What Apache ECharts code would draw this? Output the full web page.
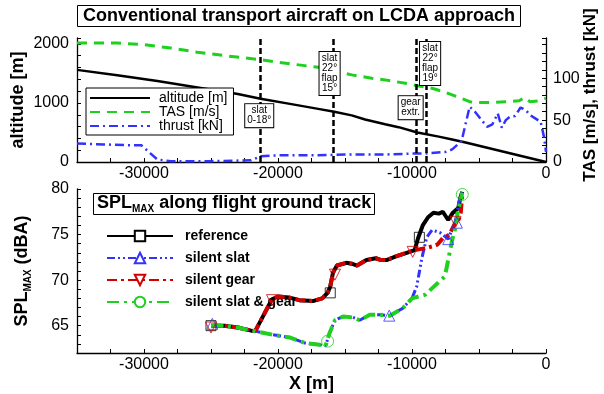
<!DOCTYPE html>
<html><head><meta charset="utf-8">
<script src="https://cdn.jsdelivr.net/npm/echarts@6/dist/echarts.min.js"></script>
<style>html,body{margin:0;padding:0;background:#fff}#c{width:604px;height:394px}</style>
</head><body><div id="c"></div>
<script>
const FONT = 'Liberation Sans, Arial, Helvetica, sans-serif';
const GREEN = '#1fd01f', BLUE = '#3232ff', RED = '#d40000';

// ---------- top panel data ----------
const altitudeData = [[-35000,1560],[-32000,1470],[-29000,1370],[-26000,1260],[-23000,1150],[-21300,1070],[-19000,980],[-17000,900],[-15800,850],[-14500,790],[-13500,720],[-12000,640],[-11000,590],[-9600,500],[-8000,430],[-7000,380],[-6000,330],[-4000,220],[-2000,110],[0,0]];
const tasData = [[-35000,142],[-32000,142],[-30000,140],[-28000,136],[-26000,131],[-24000,127],[-21300,122],[-19000,117],[-17000,113],[-15800,109],[-14500,104],[-13000,100],[-12000,98],[-10500,94],[-9600,91],[-8500,88],[-7500,83],[-6500,77],[-5700,72],[-5000,71],[-4000,71],[-3000,72],[-2000,73],[-1600,77],[-1200,72],[-500,73],[0,76]];
const thrustData = [[-35000,22],[-33000,21],[-31000,20],[-30200,20],[-29500,10],[-29000,3],[-28000,1],[-25000,1],[-22000,2],[-21300,7],[-20000,8],[-17000,8],[-15000,9],[-12000,9],[-10000,10],[-9000,10],[-7500,12],[-7000,15],[-6300,25],[-5700,66],[-5300,60],[-4800,50],[-4400,42],[-4000,45],[-3600,58],[-3300,41],[-3000,50],[-2700,54],[-2300,55],[-1900,65],[-1500,62],[-1200,56],[-800,52],[-400,48],[-150,30],[0,12]];
const eventX = [-21300, -15900, -9700, -8900];
const annotX = [-21400, -16150, -10100, -8650];
const annotY = [785, 1500, 920, 1670];
const annotText = ['slat\n0-18°', 'slat\n22°\nflap\n15°', 'gear\nextr.', 'slat\n22°\nflap\n19°'];

// ---------- bottom panel data ----------
const commonStart = [[-25000,65.0],[-24000,65.0],[-23000,64.8],[-22000,64.45],[-21700,64.4]];
const refGearMid = [[-21200,65.8],[-20700,67.2],[-20450,67.9],[-20000,68.2],[-19200,68.1],[-18400,67.8],[-17400,67.7],[-16700,68.0],[-16300,68.6],[-16100,69.3],[-15900,70.8],[-15600,71.6],[-14900,71.9],[-14500,71.8],[-14100,71.6],[-13400,72.2],[-12700,72.4],[-12300,72.2],[-11900,72.2],[-11200,72.6],[-10400,73.0],[-9800,73.3]];
const refTail = [[-9550,74.6],[-9200,76.0],[-8800,76.9],[-8400,77.4],[-8000,77.3],[-7700,77.5],[-7300,76.6],[-6950,77.4],[-6550,77.9],[-6400,79.0],[-6250,79.7]];
const gearTail = [[-9400,73.4],[-9000,73.5],[-8500,73.7],[-8100,73.9],[-7700,74.6],[-7200,75.0],[-6800,76.2],[-6500,76.7],[-6350,77.5],[-6250,79.6]];
const slatSgMid = [[-20400,64.0],[-19100,63.7],[-18000,63.1],[-16900,62.9],[-16450,62.8],[-16150,64.2],[-15750,65.6],[-15150,66.0],[-14400,65.9],[-13900,65.6],[-13150,66.2],[-12400,66.2],[-11650,66.1],[-10700,66.9],[-10000,68.0]];
const slatTail = [[-9650,69.3],[-9250,72.5],[-8900,74.7],[-8500,75.5],[-7900,75.2],[-7300,74.5],[-6800,76.3],[-6450,78.8],[-6250,79.7]];
const sgTail = [[-9000,68.4],[-8650,68.9],[-7550,70.4],[-7300,72.2],[-7000,74.4],[-6800,75.5],[-6550,77.7],[-6250,79.6]];
const refMarkers = [[-25000,65.0],[-16100,68.6],[-9450,74.7]];
const slatMarkers = [[-24900,65.2],[-11700,66.1],[-7300,74.5],[-6650,76.3]];
const gearMarkers = [[-25000,64.8],[-20450,67.8],[-15750,70.6],[-9950,73.1],[-6750,76.4]];
const sgMarkers = [[-16300,63.3],[-6250,79.4]];

const topNames = ['altitude [m]', 'TAS [m/s]', 'thrust [kN]'];
const botNames = ['reference', 'silent slat', 'silent gear', 'silent slat & gear'];

const refData = commonStart.concat(refGearMid, refTail);
const gearData = commonStart.concat(refGearMid, gearTail);
const slatData = commonStart.concat(slatSgMid, slatTail);
const sgData = commonStart.concat(slatSgMid, sgTail);

const noSym = arr => arr.map(p => ({value: p, symbol: 'none'}));

const axisLine = {show: true, onZero: false, lineStyle: {color: '#000', width: 1.3}};
const tick = {inside: true, length: 4, lineStyle: {color: '#000', width: 1}};
const lbl = (f, margin) => ({formatter: f, fontSize: 16, color: '#000', fontFamily: FONT, margin: margin});
const xFmt = v => (v % 10000 === 0 ? String(v) : '');

function xAxis(gi, extra) {
  return Object.assign({gridIndex: gi, type: 'value', min: -35000, max: 0, interval: 2500,
    axisLine: axisLine, axisTick: tick, axisLabel: lbl(xFmt, 4), splitLine: {show: false}}, extra || {});
}

const chart = echarts.init(document.getElementById('c'), null, {renderer: 'canvas'});
chart.setOption({
  animation: false,
  backgroundColor: '#fff',
  textStyle: {fontFamily: FONT},
  title: [
    {text: 'Conventional transport aircraft on LCDA approach', left: 77, top: 5,
     padding: [1, 6, 1, 6], borderColor: '#000', borderWidth: 1, backgroundColor: '#fff',
     textStyle: {fontSize: 18, fontWeight: 'bold', color: '#000', fontFamily: FONT, lineHeight: 20}},
    {text: '{a|SPL}{b|MAX}{a| along flight ground track}', left: 93, top: 192,
     padding: [1, 4, 1, 4], borderColor: '#000', borderWidth: 1, backgroundColor: '#fff',
     textStyle: {rich: {
       a: {fontSize: 18, fontWeight: 'bold', color: '#000', fontFamily: FONT, lineHeight: 21},
       b: {fontSize: 10, fontWeight: 'bold', color: '#000', fontFamily: FONT, verticalAlign: 'bottom', lineHeight: 21, padding: [6, 0, 0, 0]}
     }}}
  ],
  grid: [
    {left: 77, right: 58, top: 38, height: 124, outerBoundsMode: 'none'},
    {left: 77, right: 58, top: 189, height: 164, outerBoundsMode: 'none'}
  ],
  legend: [
    {data: topNames, orient: 'vertical', left: 86, top: 88, itemWidth: 60, itemHeight: 14, itemGap: 0,
     padding: [3, 6, 2, 3], borderColor: '#000', borderWidth: 1, backgroundColor: '#fff',
     textStyle: {fontSize: 14, color: '#000', fontFamily: FONT, lineHeight: 14, padding: [0, 0, 0, 4]},
     itemStyle: {opacity: 0}},
    {data: botNames, orient: 'vertical', left: 106, top: 229, padding: 0, itemWidth: 66, itemHeight: 13, itemGap: 8,
     textStyle: {fontSize: 14, fontWeight: 'bold', color: '#000', fontFamily: FONT, lineHeight: 13, padding: [0, 0, 0, 7]}}
  ],
  xAxis: [
    xAxis(0),
    xAxis(1, {name: 'X [m]', nameLocation: 'middle', nameGap: 22,
      nameTextStyle: {fontSize: 18, fontWeight: 'bold', color: '#000', fontFamily: FONT}})
  ],
  yAxis: [
    {gridIndex: 0, type: 'value', min: 0, max: 2100, interval: 200,
     axisLine: axisLine, axisTick: tick, splitLine: {show: false},
     axisLabel: lbl(v => (v % 1000 === 0 ? String(v) : ''), 8),
     name: 'altitude [m]', nameLocation: 'middle', nameGap: 50, nameMoveOverlap: false,
     nameTextStyle: {fontSize: 18, fontWeight: 'bold', color: '#000', fontFamily: FONT}},
    {gridIndex: 0, type: 'value', position: 'right', min: 0, max: 148, interval: 10,
     axisLine: axisLine, axisTick: tick, splitLine: {show: false},
     axisLabel: lbl(v => (v % 50 === 0 ? String(v) : ''), 7),
     name: 'TAS [m/s], thrust [kN]', nameLocation: 'middle', nameGap: 36, nameMoveOverlap: false,
     nameTextStyle: {fontSize: 17, fontWeight: 'bold', color: '#000', fontFamily: FONT, padding: [0, 0, 0, 10]}},
    {gridIndex: 1, type: 'value', min: 62, max: 80, interval: 1,
     axisLine: axisLine, axisTick: tick, splitLine: {show: false},
     axisLabel: lbl(v => (v % 5 === 0 ? String(v) : ''), 8),
     name: '{a|SPL}{b|MAX}{a| (dBA)}', nameLocation: 'middle', nameGap: 44,
     nameTextStyle: {rich: {
       a: {fontSize: 18, fontWeight: 'bold', color: '#000', fontFamily: FONT, lineHeight: 21},
       b: {fontSize: 10, fontWeight: 'bold', color: '#000', fontFamily: FONT, verticalAlign: 'bottom', lineHeight: 21, padding: [6, 0, 0, 0]}
     }}}
  ],
  series: [
    {name: topNames[0], type: 'line', xAxisIndex: 0, yAxisIndex: 0, data: altitudeData, symbol: 'none',
     lineStyle: {color: '#000', width: 2.5}, itemStyle: {color: '#000'}, z: 3,
     markLine: {silent: true, symbol: ['none', 'none'], label: {show: false},
       lineStyle: {color: '#000', width: 2.5, type: [6, 3], opacity: 1},
       data: eventX.map(x => ({xAxis: x}))}},
    {name: topNames[1], type: 'line', xAxisIndex: 0, yAxisIndex: 1, data: tasData, symbol: 'none',
     lineStyle: {color: GREEN, width: 3, type: [10, 7]}, itemStyle: {color: GREEN}, z: 3},
    {name: topNames[2], type: 'line', xAxisIndex: 0, yAxisIndex: 1, data: thrustData, symbol: 'none',
     lineStyle: {color: BLUE, width: 2.5, type: [9, 4, 2, 4]}, itemStyle: {color: BLUE}, z: 3},
    {type: 'scatter', xAxisIndex: 0, yAxisIndex: 0, symbolSize: 1, z: 10, silent: true,
     itemStyle: {color: '#fff', opacity: 1},
     data: annotX.map((x, i) => ({value: [x, annotY[i]], label: {formatter: annotText[i]}})),
     label: {show: true, position: 'inside', fontSize: 10, lineHeight: 10, color: '#000', opacity: 1, fontFamily: FONT,
       backgroundColor: '#fff', borderColor: '#000', borderWidth: 1, padding: [2, 2, 1, 2]}},

    {name: botNames[0], type: 'line', xAxisIndex: 1, yAxisIndex: 2, data: noSym(refData),
     symbol: 'rect', symbolSize: 10, showSymbol: true, showAllSymbol: true,
     lineStyle: {color: '#000', width: 4}, itemStyle: {color: '#fff', borderColor: '#000', borderWidth: 1}, z: 3},
    {name: botNames[1], type: 'line', xAxisIndex: 1, yAxisIndex: 2, data: noSym(slatData),
     symbol: 'triangle', symbolSize: 11, showSymbol: true, showAllSymbol: true,
     lineStyle: {color: BLUE, width: 3, type: [8, 3, 2, 3, 2, 3]}, itemStyle: {color: '#fff', borderColor: BLUE, borderWidth: 1}, z: 4},
    {name: botNames[2], type: 'line', xAxisIndex: 1, yAxisIndex: 2, data: noSym(gearData),
     symbol: 'triangle', symbolRotate: 180, symbolSize: 11, showSymbol: true, showAllSymbol: true,
     lineStyle: {color: RED, width: 4, type: [10, 4, 3, 4]}, itemStyle: {color: '#fff', borderColor: RED, borderWidth: 1}, z: 5},
    {name: botNames[3], type: 'line', xAxisIndex: 1, yAxisIndex: 2, data: noSym(sgData),
     symbol: 'circle', symbolSize: 12, showSymbol: true, showAllSymbol: true,
     lineStyle: {color: GREEN, width: 4, type: [12, 5, 3, 5]}, itemStyle: {color: '#fff', borderColor: GREEN, borderWidth: 1}, z: 6},

    {type: 'scatter', xAxisIndex: 1, yAxisIndex: 2, data: refMarkers, symbol: 'rect', symbolSize: 10, z: 8, silent: true,
     itemStyle: {color: 'rgba(0,0,0,0)', borderColor: '#000', borderWidth: 1}},
    {type: 'scatter', xAxisIndex: 1, yAxisIndex: 2, data: slatMarkers, symbol: 'triangle', symbolSize: 11, z: 8, silent: true,
     itemStyle: {color: 'rgba(0,0,0,0)', borderColor: BLUE, borderWidth: 1}},
    {type: 'scatter', xAxisIndex: 1, yAxisIndex: 2, data: gearMarkers, symbol: 'triangle', symbolRotate: 180, symbolSize: 11, z: 8, silent: true,
     itemStyle: {color: 'rgba(0,0,0,0)', borderColor: RED, borderWidth: 1}},
    {type: 'scatter', xAxisIndex: 1, yAxisIndex: 2, data: sgMarkers, symbol: 'circle', symbolSize: 12, z: 8, silent: true,
     itemStyle: {color: 'rgba(0,0,0,0)', borderColor: GREEN, borderWidth: 1}}
  ]
});
</script></body></html>
